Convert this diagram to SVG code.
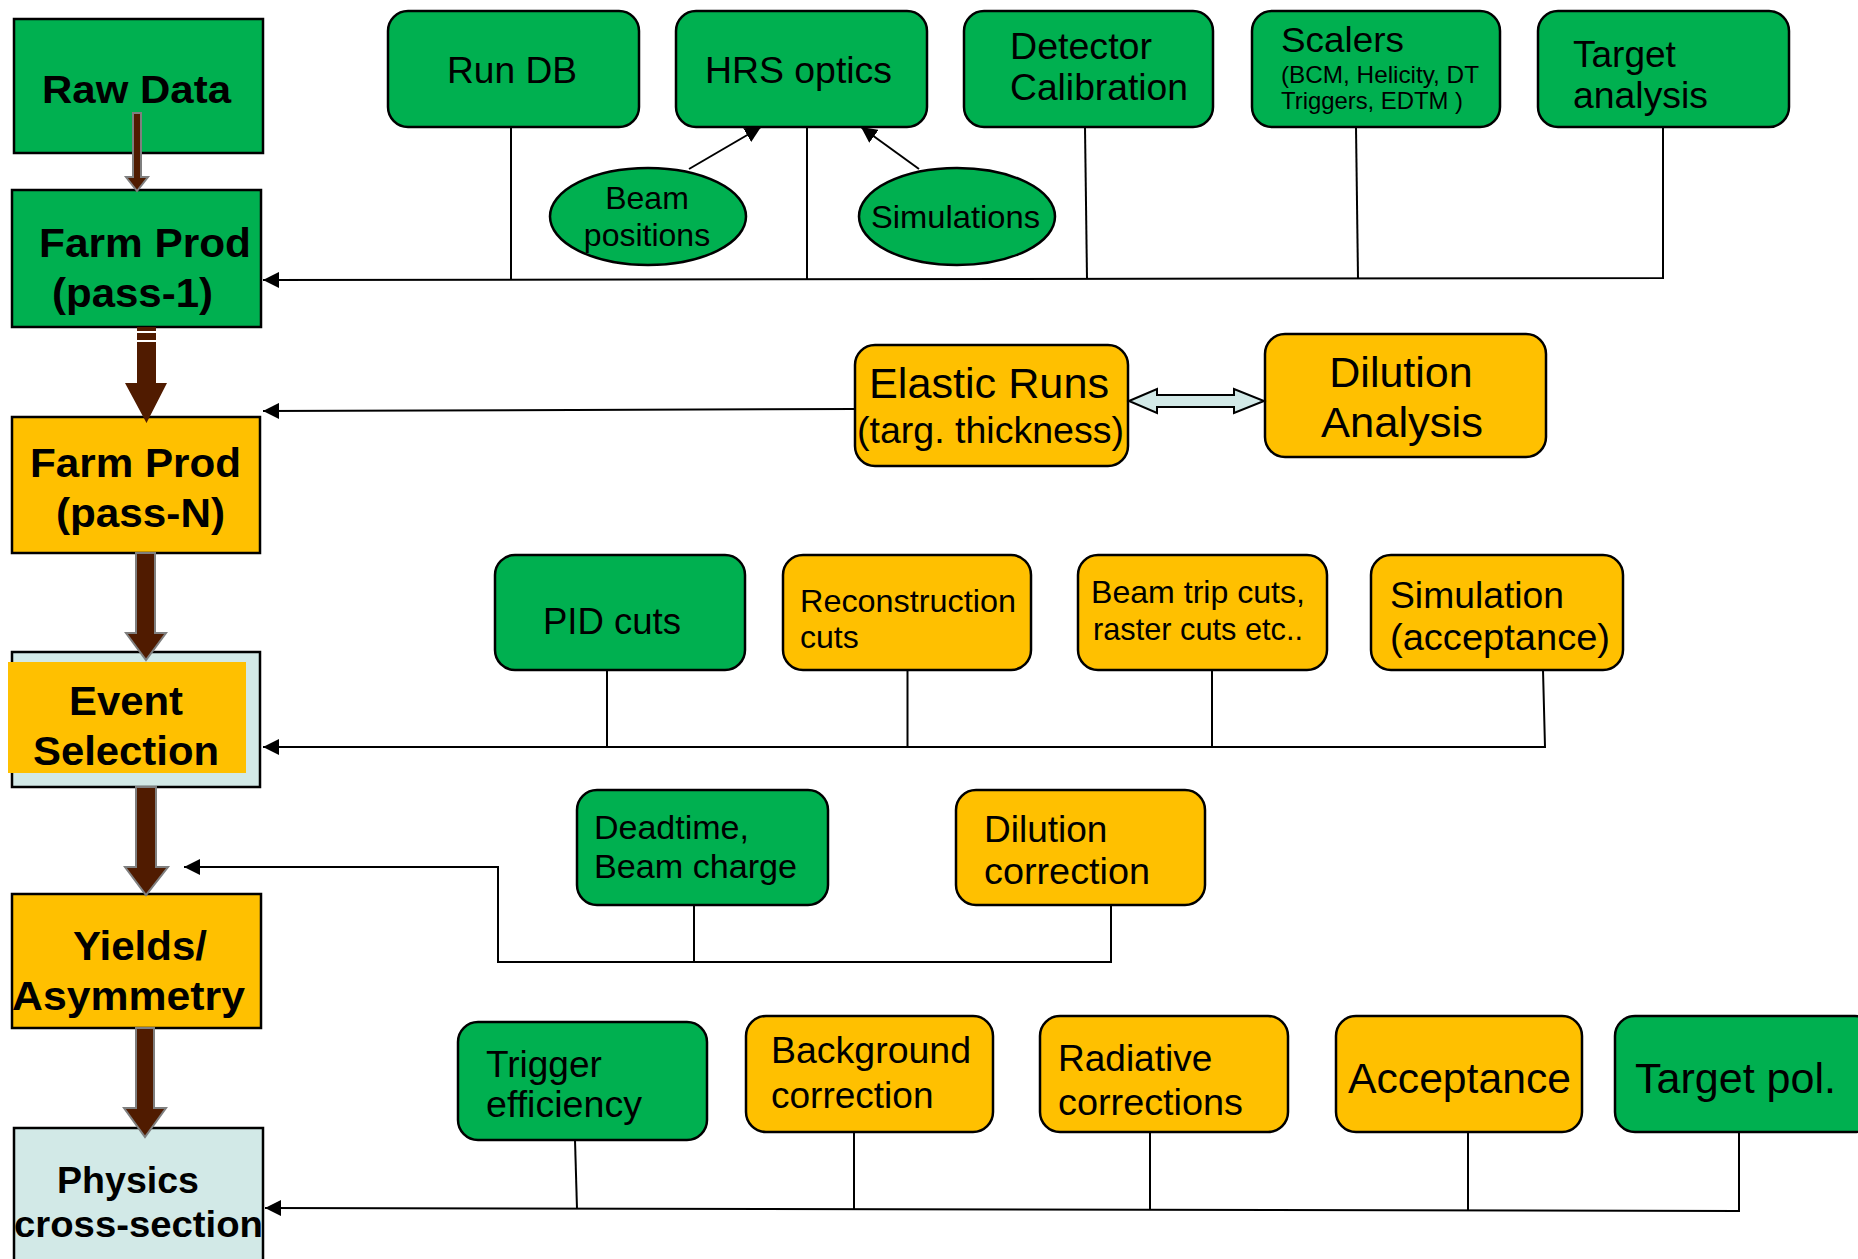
<svg xmlns="http://www.w3.org/2000/svg" width="1858" height="1259" viewBox="0 0 1858 1259">
<style>
  .g { fill: #00B050; stroke: #000; stroke-width: 2.5; }
  .y { fill: #FFC000; stroke: #000; stroke-width: 2.5; }
  .lb { fill: #D2E9E7; stroke: #000; stroke-width: 2.5; }
  .t { font-family: "Liberation Sans", Arial, sans-serif; fill: #000; }
  .b { font-family: "Liberation Sans", Arial, sans-serif; font-weight: bold; fill: #000; }
  .ln { fill: none; stroke: #000; stroke-width: 2; }
  .big { fill: #501B00; stroke: #7F7F7F; stroke-width: 2; }
</style>
<defs>
  <marker id="ah" markerUnits="userSpaceOnUse" markerWidth="18" markerHeight="16" refX="16" refY="8" orient="auto">
    <path d="M0,0 L16,8 L0,16 Z" fill="#000"/>
  </marker>
</defs>
<rect width="1858" height="1259" fill="#fff"/>

<g id="raw-data">
  <rect class="g" x="14" y="19" width="249" height="134"/>
  <text class="b" x="42" y="103" font-size="39" textLength="189" lengthAdjust="spacingAndGlyphs">Raw Data</text>
</g>
<g id="farm-prod-pass1">
  <rect class="g" x="12" y="190" width="249" height="137"/>
  <text class="b" x="39" y="257" font-size="40" textLength="212" lengthAdjust="spacingAndGlyphs">Farm Prod</text>
  <text class="b" x="52" y="307" font-size="40" textLength="161" lengthAdjust="spacingAndGlyphs">(pass-1)</text>
</g>
<g id="farm-prod-passN">
  <rect class="y" x="12" y="417" width="248" height="136"/>
  <text class="b" x="30" y="477" font-size="40" textLength="211" lengthAdjust="spacingAndGlyphs">Farm Prod</text>
  <text class="b" x="56" y="527" font-size="40" textLength="169" lengthAdjust="spacingAndGlyphs">(pass-N)</text>
</g>
<g id="event-selection">
  <rect class="lb" x="12" y="652" width="248" height="135"/>
  <rect x="8" y="662" width="238" height="111" fill="#FFC000"/>
  <text class="b" x="69" y="715" font-size="40" textLength="114" lengthAdjust="spacingAndGlyphs">Event</text>
  <text class="b" x="33" y="765" font-size="40" textLength="186" lengthAdjust="spacingAndGlyphs">Selection</text>
</g>
<g id="yields-asymmetry">
  <rect class="y" x="12" y="894" width="249" height="134"/>
  <text class="b" x="73" y="960" font-size="40" textLength="134" lengthAdjust="spacingAndGlyphs">Yields/</text>
  <text class="b" x="12" y="1010" font-size="40" textLength="233" lengthAdjust="spacingAndGlyphs">Asymmetry</text>
</g>
<g id="physics-cross-section">
  <rect class="lb" x="14" y="1128" width="249" height="140"/>
  <text class="b" x="57" y="1193" font-size="36" textLength="142" lengthAdjust="spacingAndGlyphs">Physics</text>
  <text class="b" x="14" y="1237" font-size="36" textLength="249" lengthAdjust="spacingAndGlyphs">cross-section</text>
</g>

<g id="run-db">
  <rect class="g" x="388" y="11" width="251" height="116" rx="20"/>
  <text class="t" x="447" y="83" font-size="37" textLength="130" lengthAdjust="spacingAndGlyphs">Run DB</text>
</g>
<g id="hrs-optics">
  <rect class="g" x="676" y="11" width="251" height="116" rx="20"/>
  <text class="t" x="705" y="83" font-size="37" textLength="187" lengthAdjust="spacingAndGlyphs">HRS optics</text>
</g>
<g id="detector-calibration">
  <rect class="g" x="964" y="11" width="249" height="116" rx="20"/>
  <text class="t" x="1010" y="59" font-size="37" textLength="142" lengthAdjust="spacingAndGlyphs">Detector</text>
  <text class="t" x="1010" y="100" font-size="37" textLength="178" lengthAdjust="spacingAndGlyphs">Calibration</text>
</g>
<g id="scalers">
  <rect class="g" x="1252" y="11" width="248" height="116" rx="20"/>
  <text class="t" x="1281" y="52" font-size="35" textLength="123" lengthAdjust="spacingAndGlyphs">Scalers</text>
  <text class="t" x="1281" y="83" font-size="24" textLength="198" lengthAdjust="spacingAndGlyphs">(BCM, Helicity, DT</text>
  <text class="t" x="1281" y="109" font-size="24" textLength="182" lengthAdjust="spacingAndGlyphs">Triggers, EDTM )</text>
</g>
<g id="target-analysis">
  <rect class="g" x="1538" y="11" width="251" height="116" rx="20"/>
  <text class="t" x="1573" y="67" font-size="37">Target</text>
  <text class="t" x="1573" y="108" font-size="37" textLength="135" lengthAdjust="spacingAndGlyphs">analysis</text>
</g>
<g id="beam-positions">
  <ellipse class="g" cx="648" cy="216.5" rx="98" ry="48.5"/>
  <text class="t" x="647" y="209" font-size="32" text-anchor="middle">Beam</text>
  <text class="t" x="647" y="246" font-size="32" text-anchor="middle">positions</text>
</g>
<g id="simulations">
  <ellipse class="g" cx="957" cy="216.5" rx="98" ry="48.5"/>
  <text class="t" x="871" y="228" font-size="32" textLength="169" lengthAdjust="spacingAndGlyphs">Simulations</text>
</g>

<g id="elastic-runs">
  <rect class="y" x="855" y="345" width="273" height="121" rx="20"/>
  <text class="t" x="869" y="398" font-size="42" textLength="240" lengthAdjust="spacingAndGlyphs">Elastic Runs</text>
  <text class="t" x="857" y="443" font-size="37" textLength="267" lengthAdjust="spacingAndGlyphs">(targ. thickness)</text>
</g>
<g id="dilution-analysis">
  <rect class="y" x="1265" y="334" width="281" height="123" rx="20"/>
  <text class="t" x="1401" y="387" font-size="43" text-anchor="middle">Dilution</text>
  <text class="t" x="1321" y="437" font-size="43" textLength="162" lengthAdjust="spacingAndGlyphs">Analysis</text>
</g>

<g id="pid-cuts">
  <rect class="g" x="495" y="555" width="250" height="115" rx="20"/>
  <text class="t" x="543" y="634" font-size="37" textLength="138" lengthAdjust="spacingAndGlyphs">PID cuts</text>
</g>
<g id="reconstruction-cuts">
  <rect class="y" x="783" y="555" width="248" height="115" rx="20"/>
  <text class="t" x="800" y="612" font-size="32" textLength="216" lengthAdjust="spacingAndGlyphs">Reconstruction</text>
  <text class="t" x="800" y="648" font-size="32">cuts</text>
</g>
<g id="beam-trip-cuts">
  <rect class="y" x="1078" y="555" width="249" height="115" rx="20"/>
  <text class="t" x="1091" y="603" font-size="32" textLength="214" lengthAdjust="spacingAndGlyphs">Beam trip cuts,</text>
  <text class="t" x="1093" y="640" font-size="32" textLength="210" lengthAdjust="spacingAndGlyphs">raster cuts etc..</text>
</g>
<g id="simulation-acceptance">
  <rect class="y" x="1371" y="555" width="252" height="115" rx="20"/>
  <text class="t" x="1390" y="608" font-size="37" textLength="174" lengthAdjust="spacingAndGlyphs">Simulation</text>
  <text class="t" x="1390" y="650" font-size="37" textLength="220" lengthAdjust="spacingAndGlyphs">(acceptance)</text>
</g>

<g id="deadtime-beam-charge">
  <rect class="g" x="577" y="790" width="251" height="115" rx="20"/>
  <text class="t" x="594" y="839" font-size="34">Deadtime,</text>
  <text class="t" x="594" y="878" font-size="34" textLength="203" lengthAdjust="spacingAndGlyphs">Beam charge</text>
</g>
<g id="dilution-correction">
  <rect class="y" x="956" y="790" width="249" height="115" rx="20"/>
  <text class="t" x="984" y="842" font-size="37">Dilution</text>
  <text class="t" x="984" y="884" font-size="37" textLength="166" lengthAdjust="spacingAndGlyphs">correction</text>
</g>

<g id="trigger-efficiency">
  <rect class="g" x="458" y="1022" width="249" height="118" rx="20"/>
  <text class="t" x="486" y="1077" font-size="37">Trigger</text>
  <text class="t" x="486" y="1117" font-size="37" textLength="156" lengthAdjust="spacingAndGlyphs">efficiency</text>
</g>
<g id="background-correction">
  <rect class="y" x="746" y="1016" width="247" height="116" rx="20"/>
  <text class="t" x="771" y="1063" font-size="37" textLength="200" lengthAdjust="spacingAndGlyphs">Background</text>
  <text class="t" x="771" y="1108" font-size="37">correction</text>
</g>
<g id="radiative-corrections">
  <rect class="y" x="1040" y="1016" width="248" height="116" rx="20"/>
  <text class="t" x="1058" y="1071" font-size="37">Radiative</text>
  <text class="t" x="1058" y="1115" font-size="37" textLength="185" lengthAdjust="spacingAndGlyphs">corrections</text>
</g>
<g id="acceptance">
  <rect class="y" x="1336" y="1016" width="246" height="116" rx="20"/>
  <text class="t" x="1348" y="1093" font-size="43" textLength="223" lengthAdjust="spacingAndGlyphs">Acceptance</text>
</g>
<g id="target-pol">
  <rect class="g" x="1615" y="1016" width="260" height="116" rx="20"/>
  <text class="t" x="1635" y="1093" font-size="43" textLength="201" lengthAdjust="spacingAndGlyphs">Target pol.</text>
</g>

<g id="connectors">
  <!-- thick flow arrows -->
  <path class="big" d="M133,113 H141 V177 H148 L137,191 L126,177 H133 Z"/>
  <path d="M137,327 H156 V383 H167 L146.5,423 L125,383 H137 Z" fill="#501B00"/>
  <line x1="137" y1="332" x2="156" y2="332" stroke="#fff" stroke-width="2"/>
  <line x1="137" y1="341" x2="156" y2="341" stroke="#fff" stroke-width="2"/>
  <path class="big" d="M136,553 H155 V633 H166 L146,660 L126,633 H136 Z"/>
  <path class="big" d="M136,787 H156 V867 H168 L146,895 L125,867 H136 Z"/>
  <path class="big" d="M136,1028 H154 V1108 H166 L145,1137 L124,1108 H136 Z"/>

  <!-- top bus to Farm Prod pass-1 -->
  <polyline class="ln" points="1663,127 1663,278 263,280" marker-end="url(#ah)"/>
  <line class="ln" x1="511" y1="127" x2="511" y2="279"/>
  <line class="ln" x1="807" y1="127" x2="807" y2="279"/>
  <line class="ln" x1="1085" y1="127" x2="1087" y2="279"/>
  <line class="ln" x1="1356" y1="127" x2="1358" y2="278"/>
  <!-- ellipses to HRS optics -->
  <line class="ln" x1="689" y1="169" x2="761" y2="127" marker-end="url(#ah)"/>
  <line class="ln" x1="919" y1="169" x2="861" y2="127" marker-end="url(#ah)"/>

  <!-- elastic runs to pass-N -->
  <line class="ln" x1="855" y1="409" x2="263" y2="411" marker-end="url(#ah)"/>
  <!-- double arrow -->
  <path d="M1129,401 L1157,389 V395 H1234 V389 L1264,401 L1234,413 V407 H1157 V413 Z" fill="#D2E9E7" stroke="#000" stroke-width="2"/>

  <!-- event selection bus -->
  <polyline class="ln" points="1543,670 1545,747 263,747" marker-end="url(#ah)"/>
  <line class="ln" x1="607" y1="670" x2="607" y2="747"/>
  <line class="ln" x1="907.5" y1="670" x2="907.5" y2="747"/>
  <line class="ln" x1="1212" y1="670" x2="1212" y2="747"/>

  <!-- yields bus -->
  <polyline class="ln" points="1111,905 1111,962 498,962 498,867 184,867" marker-end="url(#ah)"/>
  <line class="ln" x1="694" y1="905" x2="694" y2="962"/>

  <!-- physics bus -->
  <polyline class="ln" points="1739,1132 1739,1211 265,1208" marker-end="url(#ah)"/>
  <line class="ln" x1="575" y1="1140" x2="577" y2="1209"/>
  <line class="ln" x1="854" y1="1132" x2="854" y2="1209"/>
  <line class="ln" x1="1150" y1="1132" x2="1150" y2="1210"/>
  <line class="ln" x1="1468" y1="1132" x2="1468" y2="1210"/>
</g>
</svg>
